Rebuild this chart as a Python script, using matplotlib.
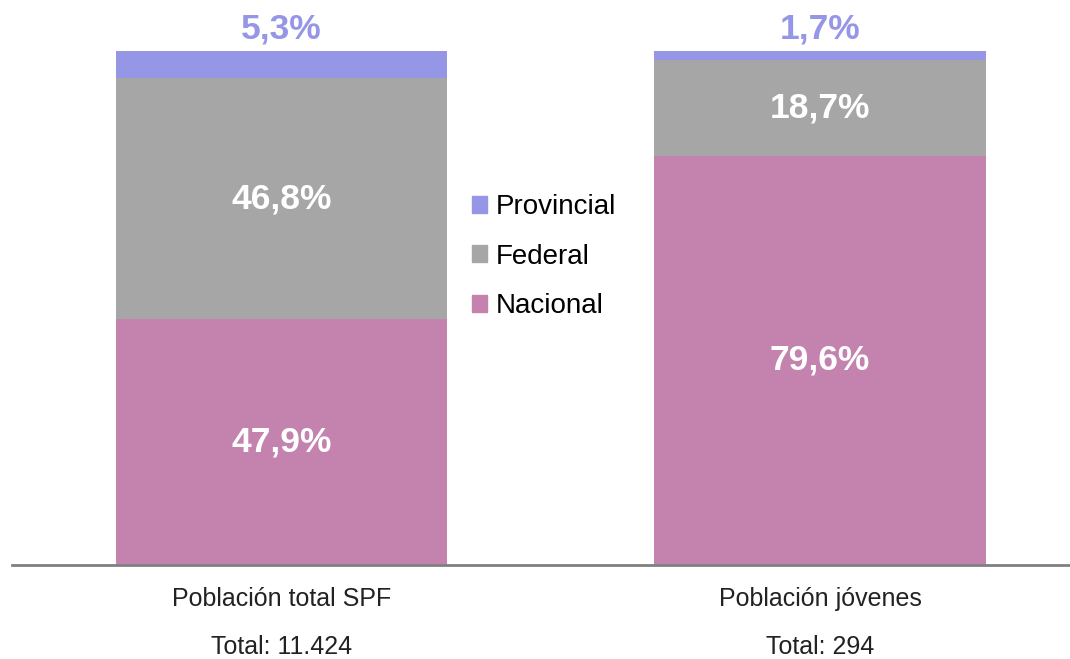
import matplotlib.pyplot as plt
from matplotlib.patches import Patch

plt.rcParams['font.family'] = ['Liberation Sans', 'DejaVu Sans']

categorias = ['Población total SPF', 'Población jóvenes']
totales = ['Total: 11.424', 'Total: 294']
nacional = [47.9, 79.6]
federal = [46.8, 18.7]
provincial = [5.3, 1.7]

col_nac = '#C383AE'
col_fed = '#A6A6A6'
col_prov = '#9696E6'

fig = plt.figure(figsize=(10.7, 6.59), dpi=100)
ax = fig.add_axes([12 / 1070, 94 / 659, 1 - 12 / 1070, 514 / 659])

x = list(range(len(categorias)))
ancho = 0.615
base_fed = nacional
base_prov = [n + f for n, f in zip(nacional, federal)]

ax.bar(x, nacional, ancho, color=col_nac)
ax.bar(x, federal, ancho, bottom=base_fed, color=col_fed)
ax.bar(x, provincial, ancho, bottom=base_prov, color=col_prov)

# etiquetas dentro de las barras
for i in x:
    ax.text(i, nacional[i] / 2, f'{nacional[i]:.1f}%'.replace('.', ','),
            ha='center', va='center', color='white', fontsize=25.5, fontweight='bold')
    ax.text(i, base_fed[i] + federal[i] / 2, f'{federal[i]:.1f}%'.replace('.', ','),
            ha='center', va='center', color='white', fontsize=25.5, fontweight='bold')
    ax.annotate(f'{provincial[i]:.1f}%'.replace('.', ','),
                (i, base_prov[i] + provincial[i]), xytext=(0, 4), textcoords='offset points',
                ha='center', va='bottom', color=col_prov, fontsize=25.5, fontweight='bold',
                annotation_clip=False)

ax.set_xlim(-0.5, 1.464)
ax.set_ylim(0, 100)
for s in ['top', 'right', 'left']:
    ax.spines[s].set_visible(False)
ax.spines['bottom'].set_color('#808080')
ax.spines['bottom'].set_linewidth(2)
ax.set_yticks([])
ax.set_xticks([])

for i in x:
    ax.text(i, -6.6, categorias[i], ha='center', va='center', fontsize=18, color='#222222')
    ax.text(i, -16.0, totales[i], ha='center', va='center', fontsize=18, color='#222222')

handles = [Patch(color=col_prov), Patch(color=col_fed), Patch(color=col_nac)]
ax.legend(handles, ['Provincial', 'Federal', 'Nacional'], loc='center',
          bbox_to_anchor=(0.503, 0.6), frameon=False, fontsize=20,
          handlelength=0.55, handleheight=0.55, handletextpad=0.3, labelspacing=0.85)

fig.savefig('out.png', dpi=100)
